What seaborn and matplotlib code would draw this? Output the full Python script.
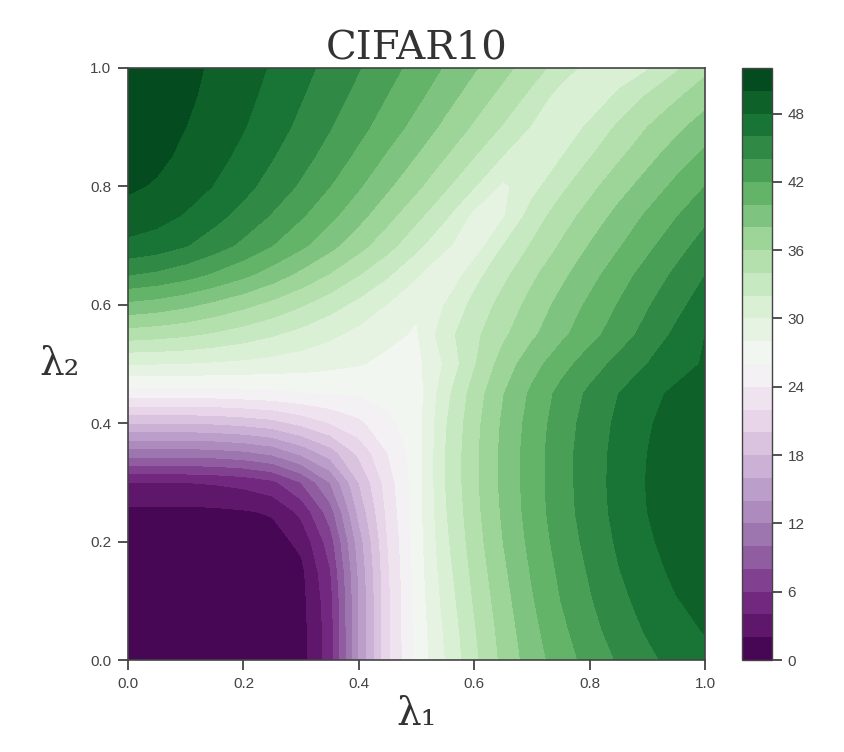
import numpy as np
import matplotlib
matplotlib.use("Agg")
import matplotlib.pyplot as plt
import seaborn as sns

# grid coordinates (lambda_1 along x, lambda_2 along y), step 0.05
lambda1 = [0.00, 0.05, 0.10, 0.15, 0.20, 0.25, 0.30, 0.35, 0.40, 0.45, 0.50,
           0.55, 0.60, 0.65, 0.70, 0.75, 0.80, 0.85, 0.90, 0.95, 1.00]
lambda2 = [0.00, 0.05, 0.10, 0.15, 0.20, 0.25, 0.30, 0.35, 0.40, 0.45, 0.50,
           0.55, 0.60, 0.65, 0.70, 0.75, 0.80, 0.85, 0.90, 0.95, 1.00]

# values, one row per lambda_2 (bottom to top)
row_000 = [0.5, 0.5, 0.5, 0.5, 0.5, 0.6, 1.2, 5.0, 14.0, 21.5, 26.5, 30.0, 33.5, 36.5, 39.0, 41.0, 42.7, 44.2, 45.5, 46.7, 47.5]
row_005 = [0.5, 0.5, 0.5, 0.5, 0.5, 0.6, 1.2, 5.0, 14.0, 21.5, 26.6, 30.3, 33.8, 36.8, 39.4, 41.5, 43.3, 44.9, 46.2, 47.4, 48.1]
row_010 = [0.5, 0.5, 0.5, 0.5, 0.5, 0.6, 1.3, 5.2, 14.0, 21.5, 26.7, 30.7, 34.2, 37.2, 39.8, 42.0, 43.8, 45.4, 46.8, 47.9, 48.6]
row_015 = [0.5, 0.5, 0.5, 0.5, 0.6, 0.7, 1.5, 5.8, 14.3, 21.7, 26.8, 31.1, 34.6, 37.6, 40.2, 42.4, 44.2, 45.9, 47.3, 48.4, 49.0]
row_020 = [0.8, 0.8, 0.8, 0.8, 0.9, 1.1, 2.5, 7.0, 15.0, 22.0, 26.9, 31.5, 35.0, 38.0, 40.6, 42.8, 44.6, 46.3, 47.7, 48.8, 49.3]
row_025 = [1.5, 1.5, 1.5, 1.6, 1.8, 2.2, 4.5, 9.0, 16.5, 22.5, 27.0, 31.8, 35.3, 38.3, 40.9, 43.1, 44.9, 46.6, 48.0, 49.0, 49.5]
row_030 = [4.0, 4.0, 4.0, 4.2, 4.6, 5.5, 8.0, 12.0, 18.0, 23.0, 27.0, 32.0, 35.5, 38.5, 41.0, 43.2, 45.0, 46.7, 48.1, 49.1, 49.6]
row_035 = [11.0, 11.0, 11.0, 11.2, 11.6, 12.5, 14.5, 17.0, 20.5, 24.0, 27.0, 32.0, 35.5, 38.5, 41.0, 43.2, 45.0, 46.6, 48.0, 49.0, 49.5]
row_040 = [18.0, 18.0, 18.0, 18.2, 18.6, 19.2, 20.5, 22.0, 23.5, 25.5, 27.0, 31.8, 35.3, 38.3, 40.8, 43.0, 44.8, 46.4, 47.8, 48.8, 49.2]
row_045 = [25.0, 25.0, 25.0, 25.0, 25.2, 25.4, 25.8, 26.0, 26.2, 26.6, 27.0, 31.3, 34.9, 37.9, 40.4, 42.6, 44.4, 46.0, 47.4, 48.4, 48.8]
row_050 = [30.0, 30.0, 29.9, 29.7, 29.5, 29.2, 28.9, 28.5, 28.1, 27.6, 27.4, 30.3, 33.8, 36.9, 39.2, 41.2, 43.0, 44.6, 46.0, 47.2, 48.2]
row_055 = [35.0, 34.7, 34.3, 33.7, 33.0, 32.2, 31.3, 30.4, 29.4, 28.4, 27.8, 31.2, 33.5, 35.6, 37.6, 39.5, 41.3, 43.0, 44.7, 46.4, 48.0]
row_060 = [39.5, 39.1, 38.4, 37.5, 36.5, 35.4, 34.2, 32.8, 31.4, 29.9, 28.3, 30.1, 32.6, 34.7, 36.7, 38.6, 40.4, 42.1, 43.8, 45.4, 47.0]
row_065 = [44.0, 43.5, 42.7, 41.6, 40.4, 39.0, 37.4, 35.8, 34.0, 32.2, 30.2, 28.2, 31.3, 33.5, 35.6, 37.5, 39.3, 41.1, 42.8, 44.4, 46.0]
row_070 = [47.5, 47.0, 46.1, 44.9, 43.5, 42.0, 40.4, 38.6, 36.7, 34.7, 32.5, 30.3, 28.8, 32.0, 34.2, 36.2, 38.1, 39.8, 41.5, 43.2, 44.8]
row_075 = [49.2, 48.7, 47.8, 46.6, 45.3, 43.8, 42.2, 40.5, 38.6, 36.6, 34.5, 32.3, 29.4, 29.8, 32.9, 35.0, 36.8, 38.6, 40.3, 41.9, 43.5]
row_080 = [50.3, 49.8, 49.0, 47.9, 46.6, 45.2, 43.7, 42.0, 40.2, 38.3, 36.4, 34.3, 32.1, 29.6, 31.3, 33.5, 35.4, 37.2, 38.8, 40.5, 42.0]
row_085 = [50.9, 50.4, 49.6, 48.6, 47.5, 46.1, 44.7, 43.2, 41.5, 39.7, 37.9, 36.0, 34.0, 31.9, 30.1, 31.9, 33.9, 35.7, 37.4, 39.0, 40.5]
row_090 = [51.2, 50.8, 50.0, 49.1, 48.1, 46.9, 45.5, 44.1, 42.6, 41.0, 39.3, 37.5, 35.7, 33.8, 31.8, 30.2, 32.5, 34.3, 36.0, 37.5, 39.0]
row_095 = [51.4, 51.0, 50.3, 49.5, 48.5, 47.4, 46.1, 44.8, 43.4, 41.9, 40.4, 38.7, 37.0, 35.3, 33.4, 31.0, 30.3, 32.6, 34.3, 35.8, 37.2]
row_100 = [51.5, 51.1, 50.5, 49.7, 48.8, 47.8, 46.6, 45.4, 44.1, 42.7, 41.3, 39.8, 38.2, 36.6, 34.9, 33.1, 31.2, 30.4, 31.8, 33.7, 35.5]

cbar_ticks = [0, 6, 12, 18, 24, 30, 36, 42, 48]
axis_ticks = [0.0, 0.2, 0.4, 0.6, 0.8, 1.0]

Z = np.array([row_000, row_005, row_010, row_015, row_020, row_025, row_030,
              row_035, row_040, row_045, row_050, row_055, row_060, row_065,
              row_070, row_075, row_080, row_085, row_090, row_095, row_100])
X, Y = np.meshgrid(lambda1, lambda2)

sns.set_theme(style="ticks")
plt.rcParams["font.family"] = ["Liberation Sans", "DejaVu Sans"]

fig = plt.figure(figsize=(8.45, 7.52), dpi=100)
ax = fig.add_axes([0.1515, 0.1223, 0.6830, 0.7873])
cax = fig.add_axes([0.878, 0.1223, 0.036, 0.7873])

levels = np.arange(0, 54, 2)
cs = ax.contourf(X, Y, Z, levels=levels, cmap="PRGn")

ax.set_xlim(0, 1)
ax.set_ylim(0, 1)
ax.set_xticks(axis_ticks)
ax.set_yticks(axis_ticks)
ax.set_xticklabels([f"{t:.1f}" for t in axis_ticks])
ax.set_yticklabels([f"{t:.1f}" for t in axis_ticks])
ax.tick_params(axis="both", direction="out", length=7, width=1.2,
               colors="#333333", labelsize=11, labelcolor="#444444", pad=5)
for s in ax.spines.values():
    s.set_color("#444444")
    s.set_linewidth(1.2)

ax.set_title("CIFAR10", fontsize=29, family="DejaVu Serif", color="#333333", pad=6)
ax.set_xlabel("λ₁", fontsize=28, family="DejaVu Serif", color="#333333", labelpad=4)
ax.set_ylabel("λ₂", fontsize=28, family="DejaVu Serif", color="#333333",
              rotation=0, labelpad=22, va="center")

cb = fig.colorbar(cs, cax=cax, ticks=cbar_ticks)
cb.ax.tick_params(direction="out", length=7, width=1.2, colors="#333333",
                  labelsize=11, labelcolor="#444444", pad=4)
cb.outline.set_edgecolor("#444444")
cb.outline.set_linewidth(1.0)

fig.savefig("out.png", dpi=100)
